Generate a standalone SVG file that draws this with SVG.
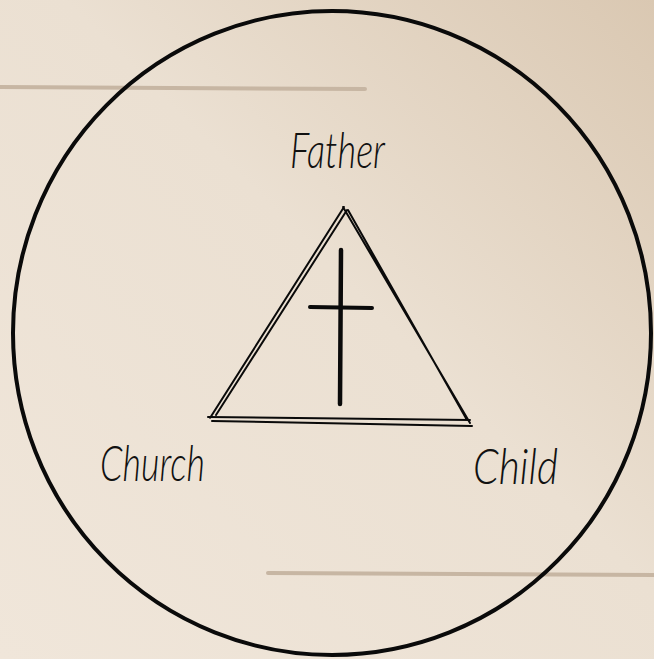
<svg xmlns="http://www.w3.org/2000/svg" width="654" height="659" viewBox="0 0 654 659">
<defs>
<linearGradient id="bg" x1="1" y1="0" x2="0" y2="1">
<stop offset="0" stop-color="#dac8b2"/>
<stop offset="0.45" stop-color="#ebe0d2"/>
<stop offset="1" stop-color="#f0e6da"/>
</linearGradient>
<style>
.ink{fill:none;stroke:#0a0a0a;stroke-linecap:round;stroke-linejoin:round}
.lbl{font-family:Lato,"Open Sans","Liberation Sans",sans-serif;font-weight:300;font-style:italic;fill:#111}
.band{stroke:#c7b6a3;stroke-linecap:round;fill:none}
</style>
</defs>
<rect width="654" height="659" fill="url(#bg)"/>
<g id="bands">
<path class="band" d="M0 87 L365 89" stroke-width="4"/>
<path class="band" d="M268 573 L654 575" stroke-width="4"/>
</g>
<g id="circle">
<ellipse class="ink" cx="332" cy="333" rx="319" ry="322" stroke-width="4"/>
</g>
<g id="triangle">
<path class="ink" d="M344 207 L210 418 M347 210 L216 415 M343 207 L470 423 M348 210 L467 420 M208 417 L470 420 M212 421 L472 426" stroke-width="2"/>
</g>
<g id="cross">
<path class="ink" d="M341 250 L340 404" stroke-width="4.5"/>
<path class="ink" d="M310 307 L372 308" stroke-width="4"/>
</g>
<g id="father"><text class="lbl" x="290" y="168" font-size="50" textLength="95" lengthAdjust="spacingAndGlyphs">Father</text></g>
<g id="church"><text class="lbl" x="100" y="481" font-size="50" textLength="105" lengthAdjust="spacingAndGlyphs">Church</text></g>
<g id="child"><text class="lbl" x="473" y="484" font-size="50" textLength="85" lengthAdjust="spacingAndGlyphs">Child</text></g>
</svg>
